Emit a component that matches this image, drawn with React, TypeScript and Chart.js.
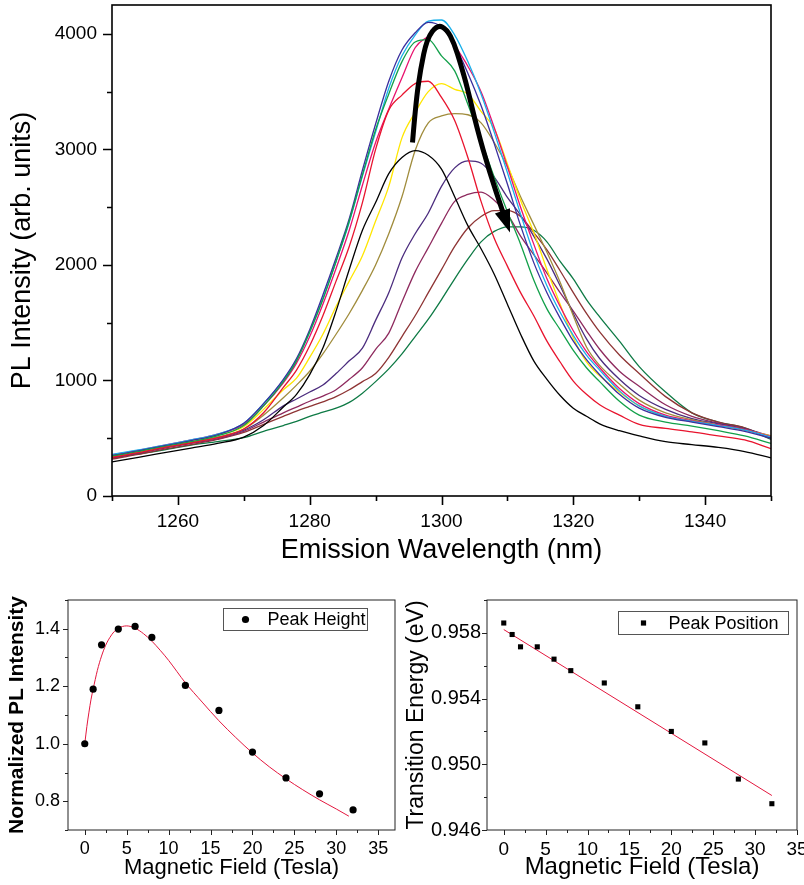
import React, { useEffect, useRef } from 'react';
import { Chart, registerables } from 'chart.js';

Chart.register(...registerables);

const FONT = "'Liberation Sans', Arial, Helvetica, sans-serif";

// ---------------- Top panel: PL spectra ----------------
const WAVELENGTH = [1250, 1254, 1258, 1262, 1266, 1270, 1273, 1276, 1278, 1280, 1282, 1284, 1286, 1288, 1290, 1292, 1294, 1296, 1298, 1300, 1302, 1304, 1306, 1308, 1310, 1312, 1314, 1316, 1318, 1320, 1322, 1324, 1327, 1330, 1334, 1338, 1342, 1346, 1350];

const SPEC_0T = [296, 335, 375, 415, 455, 510, 610, 770, 880, 1050, 1280, 1600, 1960, 2300, 2540, 2790, 2930, 2990, 2950, 2830, 2590, 2340, 2140, 1920, 1660, 1400, 1170, 1010, 870, 760, 690, 625, 565, 520, 470, 445, 420, 385, 330];
const SPEC_1T = [335, 375, 420, 460, 505, 580, 720, 940, 1090, 1300, 1560, 1860, 2160, 2540, 3000, 3340, 3470, 3570, 3590, 3450, 3250, 2930, 2550, 2230, 1990, 1760, 1560, 1340, 1160, 995, 880, 790, 700, 620, 585, 555, 520, 485, 410];
const SPEC_2T = [345, 385, 430, 470, 520, 610, 780, 990, 1170, 1420, 1700, 2030, 2380, 2780, 3170, 3480, 3760, 3930, 3950, 3810, 3680, 3390, 3080, 2760, 2460, 2180, 1870, 1620, 1440, 1260, 1110, 990, 820, 700, 640, 605, 565, 520, 455];
const SPEC_4T = [350, 390, 435, 480, 530, 630, 800, 1010, 1190, 1440, 1740, 2060, 2400, 2820, 3220, 3590, 3860, 4010, 4100, 4060, 3900, 3660, 3380, 3050, 2700, 2340, 2020, 1760, 1540, 1340, 1180, 1050, 880, 760, 680, 640, 600, 560, 500];
const SPEC_6T = [360, 400, 440, 485, 535, 630, 800, 1000, 1180, 1420, 1710, 2030, 2370, 2770, 3150, 3530, 3810, 3990, 4110, 4120, 3990, 3760, 3480, 3150, 2800, 2440, 2100, 1820, 1590, 1390, 1220, 1090, 910, 780, 690, 645, 610, 570, 510];
const SPEC_8T = [355, 395, 440, 485, 535, 620, 780, 980, 1150, 1380, 1660, 1970, 2300, 2690, 3060, 3350, 3620, 3880, 3980, 4060, 3900, 3720, 3500, 3190, 2850, 2500, 2180, 1880, 1640, 1430, 1250, 1110, 930, 800, 700, 650, 615, 575, 515];
const SPEC_12T = [345, 385, 430, 475, 525, 600, 750, 920, 1020, 1200, 1400, 1640, 1860, 2080, 2380, 2680, 3100, 3320, 3500, 3570, 3520, 3480, 3330, 3180, 2875, 2560, 2280, 1960, 1660, 1370, 1160, 1040, 900, 780, 690, 645, 610, 570, 520];
const SPEC_16T = [340, 380, 425, 465, 510, 580, 700, 850, 960, 1080, 1230, 1400, 1580, 1780, 2000, 2270, 2590, 2990, 3230, 3290, 3310, 3300, 3230, 3060, 2850, 2590, 2350, 2110, 1850, 1560, 1290, 1130, 970, 830, 720, 660, 615, 575, 515];
const SPEC_20T = [335, 375, 420, 460, 505, 570, 660, 780, 840, 900, 960, 1060, 1170, 1280, 1520, 1760, 2060, 2270, 2450, 2680, 2840, 2900, 2880, 2760, 2585, 2430, 2250, 2050, 1820, 1580, 1360, 1190, 1010, 870, 750, 670, 625, 580, 520];
const SPEC_24T = [330, 370, 415, 455, 495, 560, 640, 720, 770, 820, 865, 920, 1010, 1110, 1270, 1410, 1680, 1940, 2150, 2360, 2550, 2610, 2630, 2560, 2440, 2250, 2090, 1930, 1760, 1600, 1430, 1270, 1080, 950, 790, 690, 630, 580, 500];
const SPEC_28T = [320, 360, 405, 445, 490, 550, 620, 690, 735, 775, 815, 860, 920, 990, 1060, 1200, 1380, 1560, 1760, 1960, 2160, 2320, 2420, 2470, 2470, 2420, 2280, 2130, 1950, 1760, 1580, 1420, 1220, 1060, 860, 720, 640, 590, 500];
const SPEC_32T = [330, 365, 400, 440, 470, 505, 560, 610, 645, 690, 725, 760, 810, 890, 990, 1100, 1230, 1380, 1530, 1700, 1880, 2050, 2200, 2290, 2330, 2330, 2300, 2200, 2030, 1880, 1700, 1550, 1340, 1120, 900, 720, 640, 590, 490];

const SPECTRA = [SPEC_0T, SPEC_1T, SPEC_2T, SPEC_4T, SPEC_6T, SPEC_8T, SPEC_12T, SPEC_16T, SPEC_20T, SPEC_24T, SPEC_28T, SPEC_32T];
const SPEC_LABELS = ['0 T', '1 T', '2 T', '4 T', '6 T', '8 T', '12 T', '16 T', '20 T', '24 T', '28 T', '32 T'];
const SPEC_COLORS = ['#000000', '#e8142e', '#12a04a', '#3b2f9e', '#1ab0ea', '#e8126e', '#ffe600', '#a08c3c', '#4b2c7e', '#8e2a5e', '#8e3434', '#0e7a45'];

const WL_TICKS = [1260, 1280, 1300, 1320, 1340];
const INTENSITY_TICKS = [0, 1000, 2000, 3000, 4000];

const ARROW_NM = [1295.6, 1296.1, 1296.8, 1297.8, 1299.4, 1300.8, 1301.9, 1302.9, 1303.9, 1305.3, 1307.3, 1309.3];
const ARROW_I = [3060, 3400, 3690, 3960, 4080, 4040, 3920, 3740, 3540, 3200, 2800, 2460];
const ARROW_TIP = [1310.4, 2280];

// ---------------- Bottom panels ----------------
const FIELD = [0, 1, 2, 4, 6, 8, 12, 16, 20, 24, 28, 32];
const PEAK_HEIGHT = [1.0, 1.19, 1.344, 1.399, 1.408, 1.37, 1.203, 1.116, 0.971, 0.881, 0.826, 0.77];
const FIT_FIELD = [0, 0.25, 0.5, 0.75, 1, 1.5, 2, 2.5, 3, 3.5, 4, 4.5, 5, 6, 7, 8, 9, 10, 12, 14, 16, 18, 20, 22, 24, 26, 28, 30, 31.5];
const FIT_HEIGHT = [1.0, 1.06, 1.11, 1.155, 1.19, 1.255, 1.305, 1.343, 1.37, 1.39, 1.402, 1.408, 1.41, 1.402, 1.383, 1.357, 1.325, 1.29, 1.212, 1.145, 1.08, 1.022, 0.968, 0.92, 0.878, 0.84, 0.805, 0.773, 0.748];

const PEAK_POSITION = [0.9586, 0.9579, 0.95715, 0.95715, 0.9564, 0.9557, 0.95495, 0.9535, 0.952, 0.9513, 0.9491, 0.9476];
const LINE_FIELD = [0, 32];
const LINE_ENERGY = [0.9582, 0.9481];

const FIELD_TICKS = [0, 5, 10, 15, 20, 25, 30, 35];
const NORM_TICKS = [0.8, 1.0, 1.2, 1.4];
const ENERGY_TICKS = [0.946, 0.95, 0.954, 0.958];

// ---------------- helpers ----------------
function minorOf(major: number[], min: number, max: number) {
  const step = major[1] - major[0];
  const out: number[] = [];
  for (let v = major[0] - step / 2; v <= max + 1e-9; v += step) {
    if (v >= min - 1e-9) out.push(v);
  }
  return out;
}

const frameTicks = {
  id: 'frameTicks',
  afterDraw(chart: any, _args: any, o: any) {
    const { ctx, chartArea: a, scales } = chart;
    const xs = scales.x;
    const ys = scales.y;
    ctx.save();
    ctx.strokeStyle = o.color;
    ctx.lineWidth = o.lineWidth;
    ctx.beginPath();
    const xt = (vals: number[], len: number) => vals.forEach((v) => {
      const p = Math.round(xs.getPixelForValue(v)) + 0.5;
      ctx.moveTo(p, a.bottom);
      ctx.lineTo(p, a.bottom + len);
    });
    const yt = (vals: number[], len: number) => vals.forEach((v) => {
      const p = Math.round(ys.getPixelForValue(v)) + 0.5;
      ctx.moveTo(a.left, p);
      ctx.lineTo(a.left - len, p);
    });
    xt(o.xMajor, o.majorLen);
    xt(minorOf(o.xMajor, xs.min, xs.max), o.minorLen);
    yt(o.yMajor, o.majorLen);
    yt(minorOf(o.yMajor, ys.min, ys.max), o.minorLen);
    ctx.stroke();
    ctx.strokeRect(a.left, a.top, a.right - a.left, a.bottom - a.top);
    ctx.restore();
  },
};

const boxLegend = {
  id: 'boxLegend',
  afterDraw(chart: any, _args: any, o: any) {
    if (!o || !o.show) return;
    const { ctx, chartArea: a } = chart;
    const ds = chart.data.datasets[o.dataset];
    const x = Math.round(a.left + o.dx) + 0.5;
    const y = Math.round(a.top + o.dy) + 0.5;
    ctx.save();
    ctx.fillStyle = '#fff';
    ctx.fillRect(x, y, o.w, o.h);
    ctx.strokeStyle = '#555';
    ctx.lineWidth = 1;
    ctx.strokeRect(x, y, o.w, o.h);
    ctx.fillStyle = '#000';
    const cy = y + o.h / 2;
    if (o.marker === 'circle') {
      ctx.beginPath();
      ctx.arc(x + o.mx, cy, o.r, 0, Math.PI * 2);
      ctx.fill();
    } else {
      ctx.fillRect(x + o.mx - o.r, cy - o.r, o.r * 2, o.r * 2);
    }
    ctx.font = `${o.size}px ${FONT}`;
    ctx.textAlign = 'left';
    ctx.textBaseline = 'middle';
    ctx.fillText(ds.label, x + o.tx, cy + 1);
    ctx.restore();
  },
};

const arrowPlugin = {
  id: 'bigArrow',
  afterDatasetsDraw(chart: any) {
    const { ctx, scales } = chart;
    const xs = scales.x;
    const ys = scales.y;
    const pts = ARROW_NM.map((nm, i) => [xs.getPixelForValue(nm), ys.getPixelForValue(ARROW_I[i])]);
    const tip = [xs.getPixelForValue(ARROW_TIP[0]), ys.getPixelForValue(ARROW_TIP[1])];
    ctx.save();
    ctx.strokeStyle = '#000';
    ctx.fillStyle = '#000';
    ctx.lineWidth = 5;
    ctx.lineCap = 'butt';
    ctx.lineJoin = 'round';
    ctx.beginPath();
    ctx.moveTo(pts[0][0], pts[0][1]);
    for (let i = 1; i < pts.length - 1; i++) {
      const mx = (pts[i][0] + pts[i + 1][0]) / 2;
      const my = (pts[i][1] + pts[i + 1][1]) / 2;
      ctx.quadraticCurveTo(pts[i][0], pts[i][1], mx, my);
    }
    const last = pts[pts.length - 1];
    ctx.lineTo(last[0], last[1]);
    ctx.stroke();
    const dx = tip[0] - last[0];
    const dy = tip[1] - last[1];
    const len = Math.hypot(dx, dy);
    const ux = dx / len;
    const uy = dy / len;
    const headLen = 23;
    const half = 8;
    const bx = tip[0] - ux * headLen;
    const by = tip[1] - uy * headLen;
    ctx.beginPath();
    ctx.moveTo(tip[0], tip[1]);
    ctx.lineTo(bx - uy * half, by + ux * half);
    ctx.lineTo(bx + uy * half, by - ux * half);
    ctx.closePath();
    ctx.fill();
    ctx.restore();
  },
};

function axis(p: any) {
  return {
    type: 'linear',
    min: p.min,
    max: p.max,
    afterBuildTicks: (s: any) => {
      s.ticks = p.ticks.map((v: number) => ({ value: v }));
    },
    afterFit: (s: any) => {
      if (p.horizontal) s.height = p.size;
      else s.width = p.size;
      s.paddingTop = 0;
      s.paddingBottom = 0;
      s.paddingLeft = 0;
      s.paddingRight = 0;
    },
    grid: { display: false, drawTicks: false },
    border: { display: false },
    ticks: {
      padding: p.pad,
      color: '#000',
      font: { family: FONT, size: p.tickSize },
      maxRotation: 0,
      autoSkip: false,
      callback: (v: number) => p.fmt(v),
    },
    title: {
      display: true,
      text: p.title,
      color: '#000',
      font: { family: FONT, size: p.titleSize, weight: p.bold ? 'bold' : 'normal' },
      padding: p.titlePad,
    },
  };
}

function ChartBox(props: { make: () => any; left: number; top: number; width: number; height: number }) {
  const ref = useRef<HTMLCanvasElement | null>(null);
  useEffect(() => {
    const chart = new Chart(ref.current as HTMLCanvasElement, props.make());
    return () => chart.destroy();
  }, []);
  return (
    <canvas
      ref={ref}
      width={props.width}
      height={props.height}
      style={{ position: 'absolute', left: props.left, top: props.top, width: props.width, height: props.height }}
    />
  );
}

function makeTop() {
  return {
    type: 'line',
    data: {
      datasets: SPECTRA.map((vals, k) => ({
        label: SPEC_LABELS[k],
        data: WAVELENGTH.map((w, i) => ({ x: w, y: vals[i] })),
        borderColor: SPEC_COLORS[k],
        borderWidth: 1.3,
        pointRadius: 0,
        fill: false,
        cubicInterpolationMode: 'monotone',
      })),
    },
    options: {
      animation: false,
      responsive: false,
      devicePixelRatio: 1,
      layout: { padding: { top: 5, right: 33, left: 0, bottom: 0 } },
      plugins: {
        legend: { display: false },
        tooltip: { enabled: false },
        frameTicks: { color: '#000', lineWidth: 1.6, xMajor: WL_TICKS, yMajor: INTENSITY_TICKS, majorLen: 9, minorLen: 5 },
      },
      scales: {
        x: axis({
          min: 1250, max: 1350, ticks: WL_TICKS, horizontal: true, size: 79, pad: 14, tickSize: 19,
          fmt: (v: number) => String(v), title: 'Emission Wavelength (nm)', titleSize: 27, titlePad: { top: 0, bottom: 8 },
        }),
        y: axis({
          min: 0, max: 4250, ticks: INTENSITY_TICKS, horizontal: false, size: 112, pad: 15, tickSize: 19,
          fmt: (v: number) => String(v), title: 'PL Intensity (arb. units)', titleSize: 27, titlePad: { top: 6, bottom: 0 },
        }),
      },
    },
    plugins: [frameTicks, arrowPlugin],
  };
}

function makeLeft() {
  return {
    type: 'scatter',
    data: {
      datasets: [
        {
          label: 'Peak Height',
          data: FIELD.map((f, i) => ({ x: f, y: PEAK_HEIGHT[i] })),
          backgroundColor: '#000',
          borderWidth: 0,
          pointRadius: 3.6,
          pointStyle: 'circle',
        },
        {
          label: 'Fit',
          data: FIT_FIELD.map((f, i) => ({ x: f, y: FIT_HEIGHT[i] })),
          showLine: true,
          borderColor: '#e3173e',
          borderWidth: 1,
          pointRadius: 0,
          cubicInterpolationMode: 'monotone',
        },
      ],
    },
    options: {
      animation: false,
      responsive: false,
      devicePixelRatio: 1,
      layout: { padding: { top: 15, right: 5, left: 0, bottom: 0 } },
      plugins: {
        legend: { display: false },
        tooltip: { enabled: false },
        frameTicks: { color: '#222', lineWidth: 1, xMajor: FIELD_TICKS, yMajor: NORM_TICKS, majorLen: 5, minorLen: 3 },
        boxLegend: { show: true, dataset: 0, dx: 155, dy: 8, w: 144, h: 22, marker: 'circle', r: 3.6, mx: 22, tx: 44, size: 18 },
      },
      scales: {
        x: axis({
          min: -2, max: 37, ticks: FIELD_TICKS, horizontal: true, size: 55, pad: 8, tickSize: 18,
          fmt: (v: number) => String(v), title: 'Magnetic Field (Tesla)', titleSize: 22, titlePad: { top: 0, bottom: 4 },
        }),
        y: axis({
          min: 0.7, max: 1.5, ticks: NORM_TICKS, horizontal: false, size: 68, pad: 8, tickSize: 18,
          fmt: (v: number) => v.toFixed(1), title: 'Normalized PL Intensity', titleSize: 21, bold: true, titlePad: { top: 5, bottom: 0 },
        }),
      },
    },
    plugins: [frameTicks, boxLegend],
  };
}

function makeRight() {
  return {
    type: 'scatter',
    data: {
      datasets: [
        {
          label: 'Peak Position',
          data: FIELD.map((f, i) => ({ x: f, y: PEAK_POSITION[i] })),
          backgroundColor: '#000',
          borderWidth: 0,
          pointRadius: 3.6,
          pointStyle: 'rect',
        },
        {
          label: 'Linear fit',
          data: LINE_FIELD.map((f, i) => ({ x: f, y: LINE_ENERGY[i] })),
          showLine: true,
          borderColor: '#e3173e',
          borderWidth: 1,
          pointRadius: 0,
        },
      ],
    },
    options: {
      animation: false,
      responsive: false,
      devicePixelRatio: 1,
      layout: { padding: { top: 15, right: 7, left: 0, bottom: 0 } },
      plugins: {
        legend: { display: false },
        tooltip: { enabled: false },
        frameTicks: { color: '#222', lineWidth: 1, xMajor: FIELD_TICKS, yMajor: ENERGY_TICKS, majorLen: 5, minorLen: 3 },
        boxLegend: { show: true, dataset: 0, dx: 131, dy: 11, w: 170, h: 23, marker: 'rect', r: 2.6, mx: 25, tx: 50, size: 18 },
      },
      scales: {
        x: axis({
          min: -2, max: 35, ticks: FIELD_TICKS, horizontal: true, size: 55, pad: 8, tickSize: 19,
          fmt: (v: number) => String(v), title: 'Magnetic Field (Tesla)', titleSize: 24, titlePad: { top: 0, bottom: 3 },
        }),
        y: axis({
          min: 0.946, max: 0.96, ticks: ENERGY_TICKS, horizontal: false, size: 87, pad: 6, tickSize: 20,
          fmt: (v: number) => v.toFixed(3), title: 'Transition Energy (eV)', titleSize: 23, titlePad: { top: 3, bottom: 0 },
        }),
      },
    },
    plugins: [frameTicks, boxLegend],
  };
}

export default function App() {
  return (
    <div style={{ position: 'absolute', left: 0, top: 0, width: 804, height: 885, background: '#fff' }}>
      <ChartBox make={makeTop} left={0} top={0} width={804} height={575} />
      <ChartBox make={makeLeft} left={0} top={585} width={400} height={300} />
      <ChartBox make={makeRight} left={400} top={585} width={404} height={300} />
    </div>
  );
}
